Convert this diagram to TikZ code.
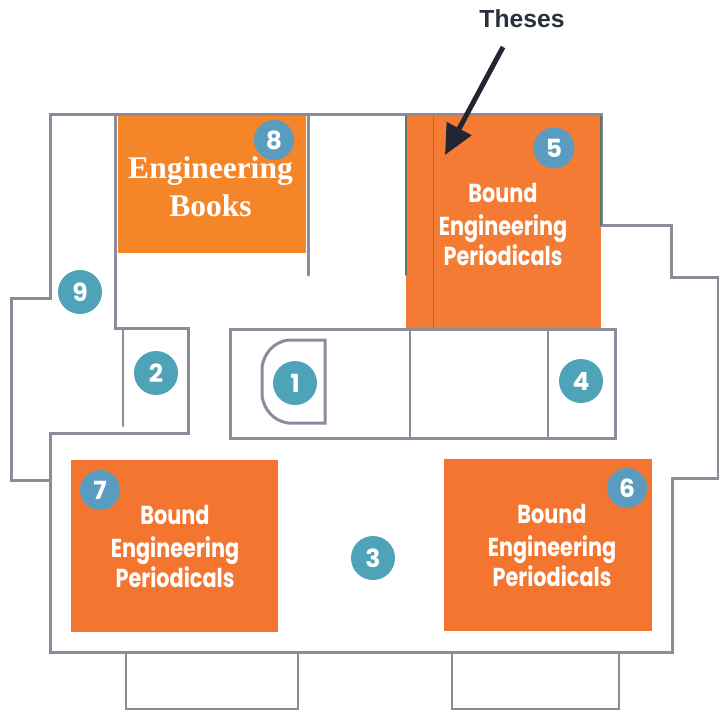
\documentclass[tikz,border=0pt]{standalone}
\usepackage{fontspec}
\usetikzlibrary{arrows.meta}
\setmainfont{Liberation Serif}
\newfontfamily\geofont{Poppins}
\newfontfamily\labelfont{Liberation Sans}
\definecolor{wallc}{HTML}{8B8B9C}
\definecolor{orangea}{HTML}{F58529}
\definecolor{orangeb}{HTML}{F47B33}
\definecolor{orangec}{HTML}{F3752F}
\definecolor{teala}{HTML}{4FA3B8}
\definecolor{tealb}{HTML}{5A9CC0}
\definecolor{inkc}{HTML}{2A2F3E}
\definecolor{darkwall}{HTML}{5F7A5A}
\tikzset{
  wall/.style={draw=wallc,line width=3pt,line join=miter,line cap=round},
  thinwall/.style={draw=wallc,line width=2.5pt,line cap=round},
  area/.style={inner sep=0pt,outer sep=0pt,anchor=north west},
  badge/.style={circle,fill=teala,text=white,inner sep=0pt,minimum size=44pt,font=\geofont\bfseries\fontsize{25}{25}\selectfont},
  badgeb/.style={badge,fill=tealb,minimum size=41pt},
  periodical/.style={text=white,align=center,inner sep=0pt,font=\geofont\bfseries\fontsize{26}{31}\selectfont},
}
\newcommand{\periodtext}{\scalebox{0.8}[1]{\begin{tabular}{@{}c@{}}Bound\\[2pt]Engineering\\[-1pt]Periodicals\end{tabular}}}
\begin{document}
\begin{tikzpicture}[x=1pt,y=-1pt]
\useasboundingbox (0,0) rectangle (719,710);
% coloured areas
\node[area,fill=orangea,minimum width=188pt,minimum height=138pt] (books) at (118,115) {};
\node[area,fill=orangeb,minimum width=195pt,minimum height=213pt] (bay5) at (406,115) {};
\node[area,fill=orangec,minimum width=207pt,minimum height=172pt] (bay7) at (71,460) {};
\node[area,fill=orangec,minimum width=208pt,minimum height=172pt] (bay6) at (444,459) {};
% walls
\draw[wall] (115,114) -- (601,114) -- (601,225) -- (671,225) -- (671,277) -- (718,277) -- (718,478) -- (672,478) -- (672,652) -- (50,652) -- (50,480) -- (11,480) -- (11,298) -- (50,298) -- (50,114) -- (115,114) -- (115,328) -- (188,328) -- (188,433) -- (50,433) -- (50,480);
\draw[thinwall] (123,329) -- (123,426);
\draw[wall] (308,114) -- (308,275);
\draw[thinwall,draw=darkwall,line width=1.6pt] (406,116) -- (406,275);
\draw[thinwall,draw=darkwall,line width=1.6pt] (601,116) -- (601,225);
\draw[draw=orangeb!80!black,line width=1pt] (433,116) -- (433,328);
\draw[wall] (230,329) rectangle (615,438);
\draw[thinwall] (410,329) -- (410,438);
\draw[thinwall] (548,329) -- (548,438);
\draw[wall] (288,340) -- (325,340) -- (325,423) -- (288,423) .. controls (274,421) and (264,410) .. (262,396) -- (262,367) .. controls (264,353) and (274,342) .. (288,340) -- cycle;
\draw[thinwall] (126,652) -- (126,709) -- (298,709) -- (298,652);
\draw[thinwall] (452,652) -- (452,709) -- (619,709) -- (619,652);
% numbered badges
\node[badge] (n1) at (295,383) {1};
\node[badge] (n2) at (156,373) {2};
\node[badge] (n3) at (373,558) {3};
\node[badge] (n4) at (581,381) {4};
\node[badgeb] (n5) at (554,148) {5};
\node[badgeb,minimum size=40pt] (n6) at (627,488) {6};
\node[badgeb,minimum size=40pt] (n7) at (100,490) {7};
\node[badgeb,minimum size=40pt] (n8) at (274,140) {8};
\node[badge] (n9) at (80,292) {9};
% labels on areas
\node[text=white,align=center,inner sep=0pt,font=\bfseries\fontsize{31.5}{38}\selectfont] (bookslabel) at (210.5,187) {Engineering\\Books};
\node[periodical] (label5) at (503,228) {\periodtext};
\node[periodical] (label7) at (175,550) {\periodtext};
\node[periodical] (label6) at (552,549) {\periodtext};
% theses callout
\node[text=inkc,inner sep=0pt,font=\labelfont\bfseries\fontsize{24.7}{28}\selectfont] (theses) at (522,19) {Theses};
\coordinate (tail) at (503,47);
\coordinate (tip) at (445,155);
\draw[draw=inkc!80!black,line width=5pt,-{Triangle[length=30pt,width=27pt]}] (tail) -- (tip);
\end{tikzpicture}
\end{document}
